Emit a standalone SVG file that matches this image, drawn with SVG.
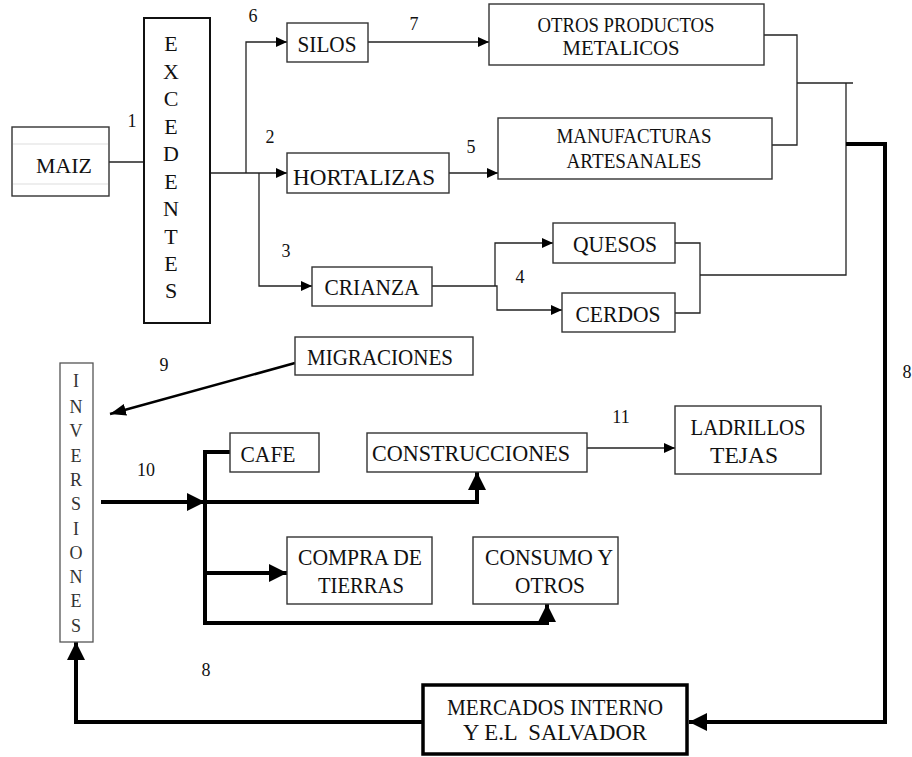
<svg xmlns="http://www.w3.org/2000/svg" width="912" height="757" viewBox="0 0 912 757" font-family="Liberation Serif, Tinos, Times New Roman, Times, DejaVu Serif, serif">
<style>
.b{fill:#fff;stroke:#333;stroke-width:1.4}
.t{font-size:24px;fill:#111;text-anchor:middle}
.w{font-size:20px;fill:#111;text-anchor:middle}
.e{font-size:22px;fill:#111;text-anchor:middle}
.n{font-size:18px;fill:#111;text-anchor:middle}
.v{font-size:18px;fill:#333;text-anchor:middle}
.l{fill:none;stroke:#222;stroke-width:1.3}
.k{fill:none;stroke:#000;stroke-width:4}
</style>
<defs>
<marker id="a" markerUnits="userSpaceOnUse" markerWidth="11" markerHeight="11" refX="11" refY="5.5" orient="auto"><path d="M0,0.5 L11,5.5 L0,10.5z" fill="#000"/></marker>
<marker id="A" markerUnits="userSpaceOnUse" markerWidth="18" markerHeight="20" refX="18" refY="10" orient="auto"><path d="M0,1 L18,10 L0,19z" fill="#000"/></marker>
<marker id="m" markerUnits="userSpaceOnUse" markerWidth="16" markerHeight="14" refX="16" refY="7" orient="auto"><path d="M0,1 L16,7 L0,13z" fill="#000"/></marker>
</defs>
<g id="connectors">
<line class="l" x1="109" y1="162" x2="144" y2="162"/>
<line class="l" x1="210" y1="173" x2="287" y2="173" marker-end="url(#a)"/>
<polyline class="l" points="246,173 246,42 287,42" marker-end="url(#a)"/>
<polyline class="l" points="259,173 259,286 312,286" marker-end="url(#a)"/>
<line class="l" x1="368" y1="42" x2="489" y2="42" marker-end="url(#a)"/>
<line class="l" x1="449" y1="173" x2="498" y2="173" marker-end="url(#a)"/>
<polyline class="l" points="764,35 797,35 797,145 772,145"/>
<line class="l" x1="797" y1="83" x2="853" y2="83"/>
<polyline class="l" points="846,83 846,275 700,275"/>
<polyline class="l" points="675,243 700,243 700,313 675,313"/>
<polyline class="l" points="432,286 497,286 497,310 562,310" marker-end="url(#a)"/>
<polyline class="l" points="495,286 495,243 553,243" marker-end="url(#a)"/>
<line class="l" x1="587" y1="448" x2="675" y2="448" marker-end="url(#a)"/>
<polyline class="k" points="846,144 885,144 885,722 689,722" marker-end="url(#A)"/>
<polyline class="k" points="423,722 76,722 76,642" marker-end="url(#A)"/>
<line x1="295" y1="363" x2="110" y2="414" stroke="#000" stroke-width="2.6" marker-end="url(#m)"/>
<line class="k" x1="101" y1="502" x2="205" y2="502" marker-end="url(#A)"/>
<polyline class="k" points="230,452 205,452 205,623 547,623 547,604" marker-end="url(#A)"/>
<polyline class="k" points="205,502 477,502 477,472" marker-end="url(#A)"/>
<line class="k" x1="205" y1="573" x2="287" y2="573" marker-end="url(#A)"/>
</g>
<g id="labels">
<text class="n" x="132" y="127">1</text>
<text class="n" x="253" y="22">6</text>
<text class="n" x="270" y="143">2</text>
<text class="n" x="286" y="257">3</text>
<text class="n" x="414" y="30">7</text>
<text class="n" x="471" y="153">5</text>
<text class="n" x="520" y="283">4</text>
<text class="n" x="164" y="371">9</text>
<text class="n" x="146" y="476">10</text>
<text class="n" x="621" y="423">11</text>
<text class="n" x="206" y="676">8</text>
<text class="n" x="907" y="378">8</text>
</g>
<g id="maiz">
<rect class="b" x="12" y="127" width="97" height="69"/>
<line x1="13" y1="144" x2="108" y2="144" stroke="#ddd" stroke-width="1"/>
<line x1="13" y1="184" x2="108" y2="184" stroke="#ddd" stroke-width="1"/>
<text class="e" x="64" y="173" textLength="56" lengthAdjust="spacingAndGlyphs">MAIZ</text>
</g>
<g id="excedentes">
<rect x="144" y="18" width="66" height="305" fill="#fff" stroke="#111" stroke-width="2"/>
<text class="e" x="171" y="51">E</text>
<text class="e" x="171" y="79">X</text>
<text class="e" x="171" y="106">C</text>
<text class="e" x="171" y="134">E</text>
<text class="e" x="171" y="161">D</text>
<text class="e" x="171" y="189">E</text>
<text class="e" x="171" y="216">N</text>
<text class="e" x="171" y="244">T</text>
<text class="e" x="171" y="271">E</text>
<text class="e" x="171" y="298">S</text>
</g>
<g id="silos">
<rect class="b" x="287" y="23" width="81" height="39"/>
<text class="t" x="327" y="52" textLength="59" lengthAdjust="spacingAndGlyphs">SILOS</text>
</g>
<g id="hortalizas">
<rect class="b" x="287" y="153" width="162" height="40"/>
<text class="t" x="364" y="185" textLength="142" lengthAdjust="spacingAndGlyphs">HORTALIZAS</text>
</g>
<g id="crianza">
<rect class="b" x="312" y="267" width="120" height="39"/>
<text class="t" x="372" y="295" textLength="95" lengthAdjust="spacingAndGlyphs">CRIANZA</text>
</g>
<g id="otros-productos">
<rect class="b" x="489" y="4" width="275" height="61"/>
<text class="w" x="626" y="32" textLength="177" lengthAdjust="spacingAndGlyphs">OTROS PRODUCTOS</text>
<text class="w" x="621" y="55" textLength="117" lengthAdjust="spacingAndGlyphs">METALICOS</text>
</g>
<g id="manufacturas">
<rect class="b" x="498" y="118" width="274" height="61"/>
<text class="w" x="634" y="143" textLength="155" lengthAdjust="spacingAndGlyphs">MANUFACTURAS</text>
<text class="w" x="634" y="168" textLength="135" lengthAdjust="spacingAndGlyphs">ARTESANALES</text>
</g>
<g id="quesos">
<rect class="b" x="553" y="223" width="122" height="40"/>
<text class="t" x="615" y="252" textLength="84" lengthAdjust="spacingAndGlyphs">QUESOS</text>
</g>
<g id="cerdos">
<rect class="b" x="562" y="293" width="113" height="39"/>
<text class="t" x="618" y="322" textLength="85" lengthAdjust="spacingAndGlyphs">CERDOS</text>
</g>
<g id="migraciones">
<rect class="b" x="295" y="337" width="178" height="38"/>
<text class="t" x="380" y="365" textLength="146" lengthAdjust="spacingAndGlyphs">MIGRACIONES</text>
</g>
<g id="inversiones">
<rect x="60" y="363" width="33" height="279" fill="#fff" stroke="#555" stroke-width="1.3"/>
<text class="v" x="76" y="387">I</text>
<text class="v" x="76" y="413">N</text>
<text class="v" x="76" y="437">V</text>
<text class="v" x="76" y="462">E</text>
<text class="v" x="76" y="486">R</text>
<text class="v" x="76" y="510">S</text>
<text class="v" x="76" y="535">I</text>
<text class="v" x="76" y="559">O</text>
<text class="v" x="76" y="583">N</text>
<text class="v" x="76" y="607">E</text>
<text class="v" x="76" y="632">S</text>
</g>
<g id="cafe">
<rect class="b" x="230" y="433" width="89" height="39"/>
<text class="t" x="268" y="462" textLength="55" lengthAdjust="spacingAndGlyphs">CAFE</text>
</g>
<g id="construcciones">
<rect class="b" x="367" y="433" width="220" height="39"/>
<text class="t" x="471" y="461" textLength="198" lengthAdjust="spacingAndGlyphs">CONSTRUCCIONES</text>
</g>
<g id="ladrillos">
<rect class="b" x="675" y="406" width="146" height="68"/>
<text class="t" x="748" y="435" textLength="115" lengthAdjust="spacingAndGlyphs">LADRILLOS</text>
<text class="t" x="744" y="463" textLength="68" lengthAdjust="spacingAndGlyphs">TEJAS</text>
</g>
<g id="compra">
<rect class="b" x="287" y="537" width="145" height="67"/>
<text class="t" x="360" y="565" textLength="124" lengthAdjust="spacingAndGlyphs">COMPRA DE</text>
<text class="t" x="361" y="593" textLength="86" lengthAdjust="spacingAndGlyphs">TIERRAS</text>
</g>
<g id="consumo">
<rect class="b" x="473" y="537" width="145" height="67"/>
<text class="t" x="549" y="565" textLength="128" lengthAdjust="spacingAndGlyphs">CONSUMO Y</text>
<text class="t" x="550" y="593" textLength="70" lengthAdjust="spacingAndGlyphs">OTROS</text>
</g>
<g id="mercados">
<rect x="423" y="685" width="264" height="69" fill="#fff" stroke="#000" stroke-width="3.5"/>
<text class="t" x="555" y="715" textLength="216" lengthAdjust="spacingAndGlyphs">MERCADOS INTERNO</text>
<text class="t" x="555" y="740" textLength="184" lengthAdjust="spacingAndGlyphs" xml:space="preserve">Y E.L  SALVADOR</text>
</g>
</svg>
